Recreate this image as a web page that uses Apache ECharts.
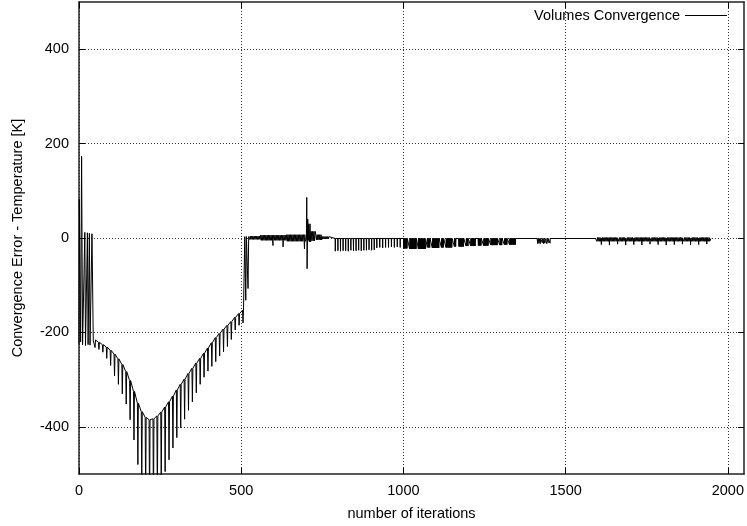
<!DOCTYPE html>
<html>
<head>
<meta charset="utf-8">
<script src="https://cdn.jsdelivr.net/npm/echarts@6/dist/echarts.min.js"></script>
<style>html,body{margin:0;padding:0;background:#fff}#c{width:747px;height:526px}</style>
</head>
<body>
<div id="c"></div>
<script>
// ---- tick labels ----
const xTickValues = [0, 500, 1000, 1500, 2000];
const yTickValues = [-400, -200, 0, 200, 400];
const seriesName = 'Volumes Convergence';

// ---- start-up oscillation (iterations 0-44) ----
const startX = [0, 1, 5, 8, 11, 18, 20, 26, 28, 32, 34, 40, 44];
const startY = [-225, 82, -220, 173, -226, 12, -228, 11, -226, 10, -227, 9, -218];

// ---- periodic dips of the first phase: iteration, upper envelope, dip bottom ----
const dipX = [48,60,72,84,96,108,120,132,144,156,168,180,192,204,216,228,240,252,264,276,288,300,312,324,336,348,360,372,384,396,408,420,432,444,456,468,480,492,504];
const dipTop = [-216,-221,-226,-231,-238,-246,-256,-268,-283,-302,-325,-350,-368,-380,-385,-383,-377,-369,-358,-347,-335,-322,-310,-299,-287,-276,-265,-255,-244,-233,-222,-211,-202,-193,-185,-177,-168,-160,-153];
const dipBottom = [-232,-236,-242,-255,-270,-292,-310,-330,-352,-385,-428,-480,-530,-560,-580,-580,-560,-530,-495,-470,-445,-423,-402,-384,-365,-347,-328,-310,-295,-282,-272,-262,-250,-241,-230,-215,-195,-185,-180];

// ---- isolated points (jump near 510, single dips, spike near 702) ----
const pointX = [507, 510, 511, 514, 516, 521, 523, 598, 629, 695, 699, 701, 702, 703, 705, 707, 772, 1348, 1412, 1458, 1592, 1948];
const pointY = [-150, -150, 3, -132, 3, -107, 3, -16, -19, -23, -8, -2, 86, -65, 40, -5, 0, -1, -1, -1, -1, -1];

// ---- noisy bands: start, end, high, low ----
const bandStart = [524, 560, 640, 708, 716, 730, 750, 1594];
const bandEnd   = [560, 640, 699, 716, 730, 750, 772, 1946];
const bandHigh  = [4, 6, 7, 30, 14, 7, 3, 1];
const bandLow   = [-3, -5, -7, -8, -6, -4, -2, -7];

// ---- downward spikes of the later phase: iteration, bottom ----
const spikeX = [790,798,806,814,822,830,838,846,854,862,870,878,886,894,902,910,
                918,927,936,945,954,963,972,981,990,
                1414,1418,1422,1428,1432,1436,1442,1446,1452,
                1610,1635,1660,1685,1710,1735,1760,1785,1810,1835,1860,1885,1910,1935];
const spikeY = [-28,-27,-28,-27,-27,-28,-26,-27,-27,-26,-27,-26,-26,-25,-26,-25,
                -21,-20,-21,-20,-20,-19,-20,-19,-20,
                -12,-11,-12,-10,-12,-11,-12,-10,-11,
                -14,-15,-13,-15,-14,-15,-13,-14,-15,-14,-13,-15,-14,-13];

// ---- dense dip blocks (1000-1350): start, end, bottom ----
const blockStart = [1000,1018,1045,1074,1088,1116,1130,1156,1170,1192,1206,1230,1246,1268,1296,1310,1326];
const blockEnd   = [1012,1040,1068,1082,1110,1124,1150,1162,1186,1200,1222,1240,1262,1290,1304,1320,1346];
const blockLow   = [-22,-23,-23,-20,-21,-20,-20,-18,-18,-17,-17,-16,-16,-15,-15,-14,-14];

function buildData() {
  const pts = [];
  startX.forEach((x, i) => pts.push([x, startY[i]]));
  dipX.forEach((x, i) => {
    pts.push([x, dipTop[i]]);
    pts.push([x + 1.5, dipBottom[i]]);
    pts.push([x + 3, dipTop[i]]);
  });
  pointX.forEach((x, i) => pts.push([x, pointY[i]]));
  bandStart.forEach((s, i) => {
    let k = 0;
    for (let x = s; x < bandEnd[i]; x += 2, k++) pts.push([x, k % 2 ? bandLow[i] : bandHigh[i]]);
  });
  spikeX.forEach((x, i) => {
    pts.push([x - 0.5, -1]);
    pts.push([x, spikeY[i]]);
    pts.push([x + 0.5, -1]);
  });
  blockStart.forEach((s, i) => {
    let k = 0;
    for (let x = s; x <= blockEnd[i]; x += 1, k++) pts.push([x, k % 2 ? blockLow[i] : -1]);
  });
  pts.sort((a, b) => a[0] - b[0]);
  return pts;
}

const FONT = '"Liberation Sans", Arial, sans-serif';
const chart = echarts.init(document.getElementById('c'), null, {renderer: 'canvas'});
const axisLineStyle = {color: '#222', width: 1.5};
const gridLine = {show: true, lineStyle: {color: '#333', width: 1, type: [1, 2]}};
const plain = v => String(v);

chart.setOption({
  animation: false,
  backgroundColor: '#fff',
  grid: {left: 79, right: 2, top: 2, bottom: 49, containLabel: false},
  legend: {
    data: [seriesName], right: 20, top: 8, padding: 0,
    icon: 'rect', itemWidth: 42, itemHeight: 1, align: 'right',
    textStyle: {fontFamily: FONT, fontSize: 14.5, color: '#000'}
  },
  xAxis: [{
    type: 'value', min: 0, max: 2050, position: 'bottom',
    name: 'number of iterations', nameLocation: 'middle', nameGap: 32,
    nameTextStyle: {fontFamily: FONT, fontSize: 14.5, color: '#000'},
    axisLine: {show: true, onZero: false, lineStyle: axisLineStyle},
    axisTick: {show: true, inside: true, length: 6, customValues: xTickValues, lineStyle: {color: '#000'}},
    axisLabel: {show: true, customValues: xTickValues, formatter: plain, margin: 9, fontFamily: FONT, fontSize: 14.5, color: '#000'},
    splitLine: gridLine
  }, {
    type: 'value', min: 0, max: 2050, position: 'top',
    axisLine: {show: true, onZero: false, lineStyle: axisLineStyle},
    axisTick: {show: true, inside: true, length: 6, customValues: xTickValues, lineStyle: {color: '#000'}},
    axisLabel: {show: false}, splitLine: {show: false}
  }],
  yAxis: [{
    type: 'value', min: -500, max: 500, position: 'left',
    name: 'Convergence Error - Temperature [K]', nameLocation: 'middle', nameGap: 54,
    nameTextStyle: {fontFamily: FONT, fontSize: 14.5, color: '#000'},
    axisLine: {show: true, onZero: false, lineStyle: axisLineStyle},
    axisTick: {show: true, inside: true, length: 6, customValues: yTickValues, lineStyle: {color: '#000'}},
    axisLabel: {show: true, customValues: yTickValues, formatter: plain, margin: 10, fontFamily: FONT, fontSize: 14.5, color: '#000'},
    splitLine: gridLine
  }, {
    type: 'value', min: -500, max: 500, position: 'right',
    axisLine: {show: true, onZero: false, lineStyle: axisLineStyle},
    axisTick: {show: true, inside: true, length: 6, customValues: yTickValues, lineStyle: {color: '#000'}},
    axisLabel: {show: false}, splitLine: {show: false}
  }],
  series: [{
    name: seriesName, type: 'line', xAxisIndex: 0, yAxisIndex: 0,
    data: buildData(), showSymbol: false, symbol: 'none', clip: true,
    lineStyle: {color: '#000', width: 1}, itemStyle: {color: '#000'},
    silent: true
  }]
});
</script>
</body>
</html>
